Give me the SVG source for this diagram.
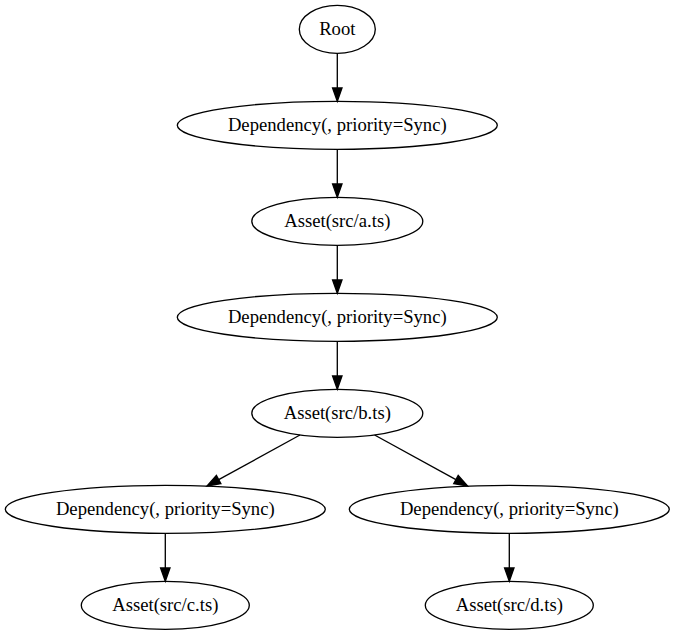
<svg xmlns="http://www.w3.org/2000/svg" width="674" height="635" viewBox="0 0 674 635">
<style>
.n ellipse{fill:none;stroke:#000;stroke-width:1.33}
.n text{font-family:"Liberation Serif","Times New Roman",serif;font-size:18.67px;text-anchor:middle;fill:#000}
.e line{stroke:#000;stroke-width:1.33}
.e polygon{fill:#000;stroke:#000;stroke-width:1.33}
</style>
<rect width="674" height="635" fill="#fff"/>
<g id="edges" class="e">
<line x1="337.3" y1="53.3" x2="337.3" y2="88"/><polygon points="332.6,88 337.3,101.3 342,88"/>
<line x1="337.3" y1="149.3" x2="337.3" y2="184"/><polygon points="332.6,184 337.3,197.3 342,184"/>
<line x1="337.3" y1="245.3" x2="337.3" y2="280"/><polygon points="332.6,280 337.3,293.3 342,280"/>
<line x1="337.3" y1="341.3" x2="337.3" y2="376"/><polygon points="332.6,376 337.3,389.3 342,376"/>
<line x1="300" y1="435" x2="218.7" y2="479.6"/><polygon points="220.9,483.7 207,486 216.4,475.5"/>
<line x1="374.6" y1="435" x2="455.9" y2="479.6"/><polygon points="453.7,483.7 467.6,486 458.2,475.5"/>
<line x1="165.3" y1="533.3" x2="165.3" y2="568"/><polygon points="160.6,568 165.3,581.3 170,568"/>
<line x1="509.3" y1="533.3" x2="509.3" y2="568"/><polygon points="504.6,568 509.3,581.3 514,568"/>
</g>
<g id="root" class="n"><ellipse cx="337.3" cy="29.3" rx="38" ry="24"/><text x="337.3" y="35">Root</text></g>
<g id="dep1" class="n"><ellipse cx="337.3" cy="125.3" rx="160" ry="24"/><text x="337.3" y="131">Dependency(, priority=Sync)</text></g>
<g id="asset_a" class="n"><ellipse cx="337.3" cy="221.3" rx="85.5" ry="24"/><text x="337.3" y="227">Asset(src/a.ts)</text></g>
<g id="dep2" class="n"><ellipse cx="337.3" cy="317.3" rx="160" ry="24"/><text x="337.3" y="323">Dependency(, priority=Sync)</text></g>
<g id="asset_b" class="n"><ellipse cx="337.3" cy="413.3" rx="85.5" ry="24"/><text x="337.3" y="419">Asset(src/b.ts)</text></g>
<g id="dep3" class="n"><ellipse cx="165.3" cy="509.3" rx="160" ry="24"/><text x="165.3" y="515">Dependency(, priority=Sync)</text></g>
<g id="dep4" class="n"><ellipse cx="509.3" cy="509.3" rx="160" ry="24"/><text x="509.3" y="515">Dependency(, priority=Sync)</text></g>
<g id="asset_c" class="n"><ellipse cx="165.3" cy="605.3" rx="84" ry="24"/><text x="165.3" y="611">Asset(src/c.ts)</text></g>
<g id="asset_d" class="n"><ellipse cx="509.3" cy="605.3" rx="84" ry="24"/><text x="509.3" y="611">Asset(src/d.ts)</text></g>
</svg>
